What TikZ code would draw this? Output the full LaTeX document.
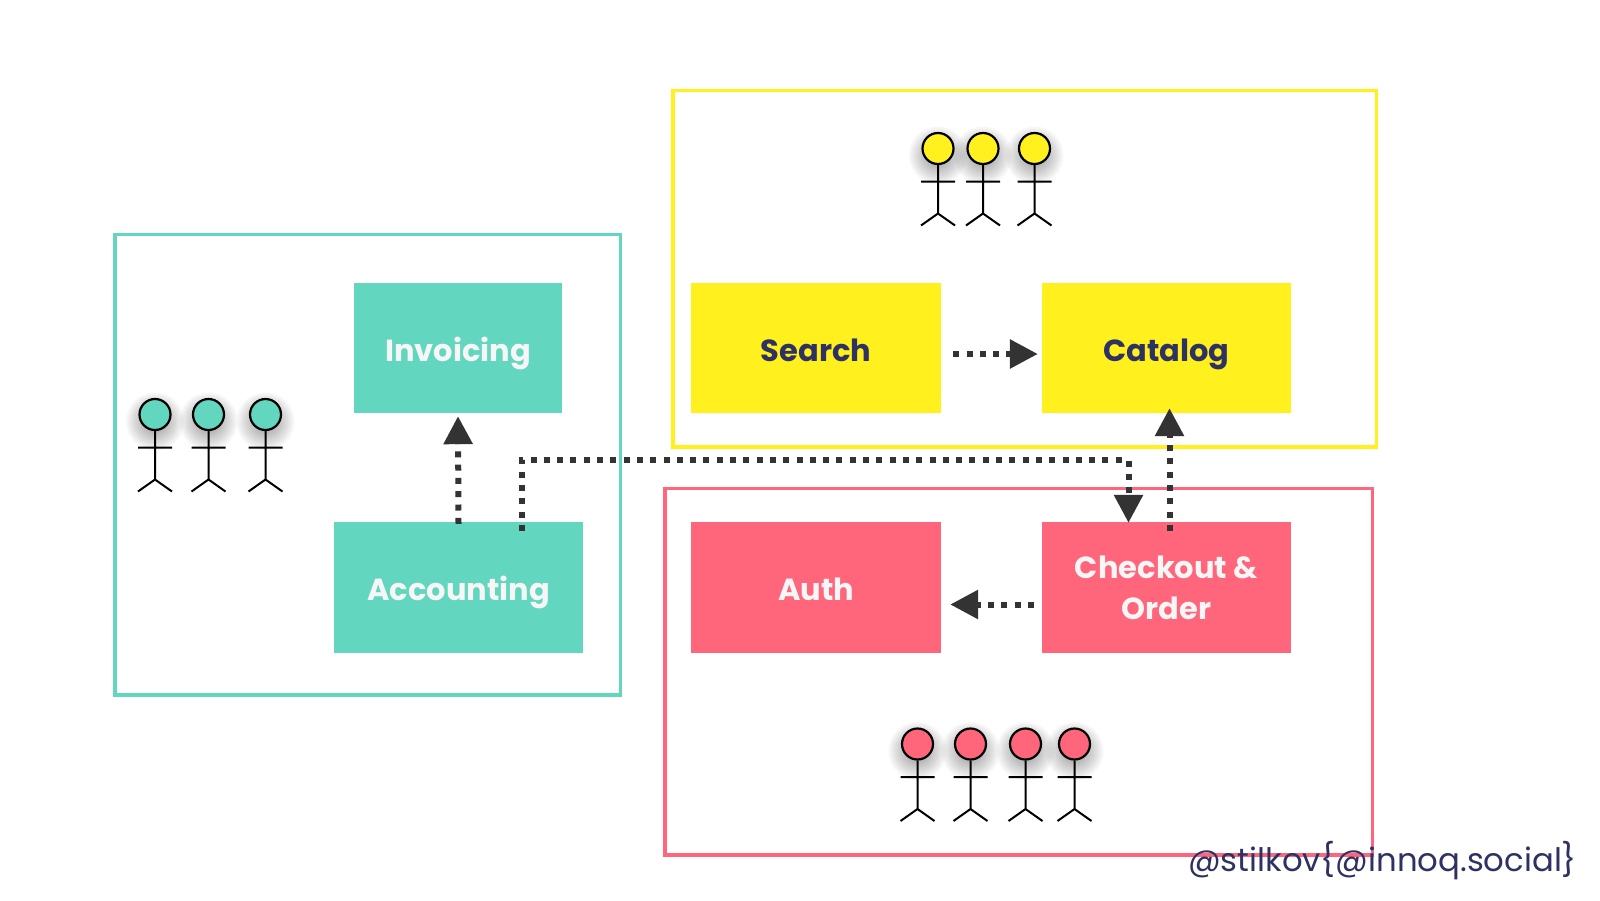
\documentclass[tikz,border=0pt]{standalone}
\usepackage{fontspec}
\setmainfont{Poppins}
\usetikzlibrary{arrows.meta}
\definecolor{teal1}{HTML}{62D6BE}
\definecolor{yellow1}{HTML}{FFF01E}
\definecolor{pink1}{HTML}{FF667C}
\definecolor{ink}{HTML}{2E3163}
\definecolor{paper}{HTML}{F6F6F6}
\definecolor{dep}{HTML}{333333}
\tikzset{
  frame/.style={draw=#1,line width=3.2pt,fill=none},
  svc/.style={fill=#1,inner sep=0pt,align=center,font=\fontsize{30.5}{41}\selectfont\bfseries},
  upperrow/.style={text height=34pt,text depth=7pt},
  lowerrow/.style={text height=32pt,text depth=7pt},
  dependency/.style={draw=dep,line width=6pt,dash pattern=on 6pt off 7.3pt,-{Triangle[length=28pt,width=28pt]},shorten >=0pt},
  limb/.style={draw=black,line width=2pt},
  headdot/.style={circle,draw=black,line width=2.2pt,minimum size=31pt,inner sep=0pt,fill=#1},
}
\newcommand{\stick}[4]{%
  \foreach \r in {29,27,...,9}{\fill[black,opacity=0.032] (#2,#3+7) circle[radius=\r pt];}
  \node[headdot=#4] (#1) at (#2,#3) {};
  \draw[limb] (#1.south) -- (#2,#3+65) (#2-17,#3+33) -- (#2+17,#3+33)
     (#2-17,#3+77) -- (#2,#3+65) -- (#2+17,#3+77);
}
\begin{document}
\begin{tikzpicture}[x=1pt,y=-1pt]
\useasboundingbox (0,0) rectangle (1600,900);
\fill[white] (0,0) rectangle (1600,900);
% frames
\draw[frame=teal1] (115,234.5) rectangle (620.5,695);
\draw[frame=yellow1] (673,90.5) rectangle (1376.5,447);
\draw[frame=pink1] (665,488.5) rectangle (1372.5,855);
% services
\node[svc=teal1,upperrow,text=paper,minimum width=208pt,minimum height=130pt] (inv) at (458,348) {Invoicing};
\node[svc=teal1,lowerrow,text=paper,minimum width=249pt,minimum height=131pt] (acc) at (458.5,587.5) {Accounting};
\node[svc=yellow1,upperrow,text=ink,minimum width=250pt,minimum height=130pt] (sea) at (816,348) {Search};
\node[svc=yellow1,upperrow,text=ink,minimum width=249pt,minimum height=130pt] (cat) at (1166.5,348) {Catalog};
\node[svc=pink1,lowerrow,text=paper,minimum width=250pt,minimum height=131pt] (aut) at (816,587.5) {Auth};
\node[svc=pink1,text=paper,minimum width=249pt,minimum height=131pt] (chk) at (1166.5,587.5) {Checkout \&\\Order};
% people
\stick{y1}{938}{148.5}{yellow1}
\stick{y2}{983}{148.5}{yellow1}
\stick{y3}{1034.5}{148.5}{yellow1}
\stick{t1}{155}{414.5}{teal1}
\stick{t2}{208.5}{414.5}{teal1}
\stick{t3}{265.5}{414.5}{teal1}
\stick{p1}{917.5}{744}{pink1}
\stick{p2}{970.5}{744}{pink1}
\stick{p3}{1025.5}{744}{pink1}
\stick{p4}{1074.5}{744}{pink1}
% dependencies
\coordinate (route) at (1128.5,460);
\draw[dependency] ([xshift=12pt,yshift=-6pt]sea.east) -- ([xshift=-4pt,yshift=-6pt]cat.west);
\draw[dependency] ([yshift=-2pt]acc.north) -- ([yshift=-3pt]inv.south);
\draw[dependency] ([xshift=63pt,yshift=-9pt]acc.north) |- (route) -- ([xshift=-38pt,yshift=-1pt]chk.north);
\draw[dependency] ([xshift=3pt,yshift=-9pt]chk.north) -- ([xshift=3pt,yshift=5pt]cat.south);
\draw[dependency] ([xshift=-8pt,yshift=-17pt]chk.west) -- ([xshift=9pt,yshift=-17pt]aut.east);
\node[anchor=base west,inner sep=0pt,text=ink,font=\fontsize{32.3}{36}\selectfont] (handle) at (1188,871) {@stilkov\{@innoq.social\}};
\end{tikzpicture}
\end{document}
